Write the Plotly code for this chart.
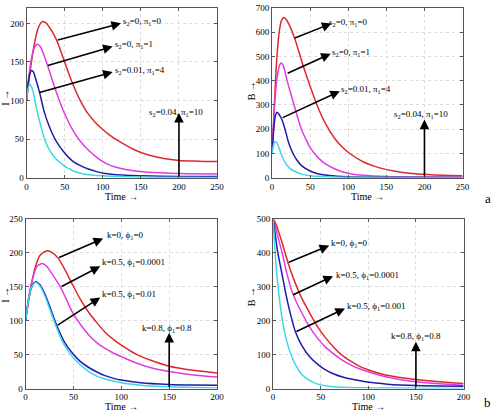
import plotly.graph_objects as go

# ---------------- Panel a (left): I vs time ----------------
a1_red_t = [0, 5, 10, 15, 20, 25, 30, 35, 40, 45, 50, 60, 70, 80, 90, 100, 110, 120, 140, 160, 180, 200, 225, 250]
a1_red_y = [100, 140, 172, 193, 202, 201, 195, 187, 177, 164, 150, 123, 101, 84, 72, 62.5, 54.5, 48, 37, 29.5, 25, 22.5, 21.5, 21]
a1_mag_t = [0, 3, 6, 10, 14, 18, 22, 27, 33, 39, 45, 50, 60, 70, 80, 90, 100, 110, 120, 140, 160, 200, 250]
a1_mag_y = [100, 130, 152, 168, 173, 170, 161, 147, 129, 111, 95, 83, 63, 48, 37, 28, 21, 16, 13, 9, 7, 5.5, 5]
a1_blu_t = [0, 2, 4, 6.5, 9, 12, 17, 23, 30, 39, 50, 60, 70, 82, 92, 103, 125, 150, 200, 250]
a1_blu_y = [100, 122, 134, 139, 137, 128, 111, 86, 66, 47, 32, 22, 16, 11, 8, 5.5, 3.5, 2.5, 1.8, 1.5]
a1_cya_t = [0, 2, 4, 6, 9, 13, 18, 23, 30, 39, 50, 60, 75, 100, 150, 250]
a1_cya_y = [100, 115, 121, 119, 110, 90, 70, 52, 36, 24, 15, 9.5, 5, 2.5, 1, 0.5]

# ---------------- Panel a (right): B vs time ----------------
a2_red_t = [0, 3, 6, 9, 12, 15.5, 19, 24, 30, 40, 50, 60, 70, 82, 92, 103, 120, 138, 160, 180, 200, 225, 250]
a2_red_y = [100, 300, 480, 590, 645, 661, 650, 620, 572, 470, 377, 292, 224, 163, 127, 98, 65, 44, 28, 19, 14, 10, 8]
a2_mag_t = [0, 2, 4, 7, 10, 12.5, 15, 17.6, 22, 28, 33, 39, 45, 50, 60, 70, 82, 92, 103, 120, 150, 200, 250]
a2_mag_y = [100, 220, 330, 420, 465, 473, 460, 428, 375, 310, 255, 196, 155, 124, 84, 57, 37, 25, 17, 10, 5, 3, 2]
a2_blu_t = [0, 2, 4, 6.4, 9, 13, 17, 22, 28, 33, 39, 50, 60, 75, 100, 150, 250]
a2_blu_y = [100, 190, 250, 270, 262, 240, 200, 142, 97, 71, 49, 28, 17, 9, 4, 2, 1]
a2_cya_t = [0, 2, 3.9, 6, 9, 13, 17.6, 22, 28, 39, 50, 70, 100, 250]
a2_cya_y = [100, 135, 149, 145, 125, 90, 60, 43, 29, 15, 8, 4, 2, 0.5]

# ---------------- Panel b (left): I vs time ----------------
b1_red_t = [0, 5, 10, 15, 22.6, 28, 34, 40, 49, 57, 66, 75, 83, 92, 100, 115, 130, 150, 175, 200]
b1_red_y = [100, 145, 178, 196, 203, 200, 192, 178, 153, 132, 112, 96, 83, 72, 64, 51, 42, 33, 27, 23]
b1_mag_t = [0, 4, 8, 12, 17.4, 22, 28, 36.6, 43, 49, 57, 66, 75, 83, 92, 100, 115, 130, 150, 175, 200]
b1_mag_y = [100, 140, 165, 180, 184, 180, 168, 149, 130, 112, 95, 79, 67, 59, 52, 47, 38, 31, 25, 20, 17]
b1_blu_t = [0, 3, 6, 9, 11.6, 15, 20, 26, 32, 40, 49, 57, 66, 75, 83, 92, 100, 120, 150, 175, 200]
b1_blu_y = [100, 130, 148, 156, 157, 153, 140, 118, 95, 70, 52, 40, 31, 24, 19, 15, 12.5, 8.5, 6, 5.2, 5]
b1_cya_t = [0, 3, 6, 9, 11, 15, 20, 26, 32, 40, 49, 57, 66, 75, 83, 92, 100, 120, 150, 175, 200]
b1_cya_y = [100, 130, 148, 155, 156, 151, 137, 114, 91, 65, 47, 35, 25, 18, 14, 11, 8.5, 5, 2.5, 1.5, 1]

# ---------------- Panel b (right): B vs time ----------------
b2_red_t = [0, 3, 6, 10, 15.8, 22, 30, 38, 47, 55, 64.6, 73, 82, 90, 99, 115, 130, 150, 175, 200]
b2_red_y = [500, 485, 460, 425, 370, 320, 267, 225, 181, 150, 119, 97, 80, 67, 56, 42, 34, 27, 20, 15]
b2_mag_t = [0, 3, 6, 9.6, 14, 20, 25, 30, 38, 47, 55, 64.6, 73, 82, 90, 99, 115, 130, 150, 175, 200]
b2_mag_y = [500, 470, 437, 400, 345, 285, 252, 224, 183, 147, 122, 100, 83, 69, 59, 50, 37, 28, 20, 14, 10]
b2_blu_t = [0, 2, 5, 9.6, 13, 16.5, 23.4, 30, 38, 47, 55, 64.6, 73, 82, 99, 120, 150, 200]
b2_blu_y = [500, 460, 400, 335, 285, 240, 168, 128, 95, 71, 55, 42, 34, 28, 19, 13, 9, 7]
b2_cya_t = [0, 1.5, 3, 6.2, 9.6, 13, 16.5, 20, 23.4, 30, 38, 47, 60, 80, 100, 150, 200]
b2_cya_y = [500, 430, 370, 275, 205, 155, 119, 92, 71, 42, 24, 13, 6, 3, 2, 1, 0.5]

COLORS = ["#dc2a2a", "#e03ce0", "#1c1caa", "#3cd8e8"]
SERIF = "Liberation Serif"

fig = go.Figure()

panels = [
    ("x", "y", [(a1_red_t, a1_red_y), (a1_mag_t, a1_mag_y), (a1_blu_t, a1_blu_y), (a1_cya_t, a1_cya_y)]),
    ("x2", "y2", [(a2_red_t, a2_red_y), (a2_mag_t, a2_mag_y), (a2_blu_t, a2_blu_y), (a2_cya_t, a2_cya_y)]),
    ("x3", "y3", [(b1_red_t, b1_red_y), (b1_mag_t, b1_mag_y), (b1_blu_t, b1_blu_y), (b1_cya_t, b1_cya_y)]),
    ("x4", "y4", [(b2_red_t, b2_red_y), (b2_mag_t, b2_mag_y), (b2_blu_t, b2_blu_y), (b2_cya_t, b2_cya_y)]),
]
for xa, ya, curves in panels:
    for (t, v), c in zip(curves, COLORS):
        fig.add_trace(go.Scatter(x=t, y=v, mode="lines", line=dict(color=c, width=1.5, shape="spline", smoothing=0.7),
                                 xaxis=xa, yaxis=ya, showlegend=False, hoverinfo="skip"))

lab_a1 = ["s<sub>2</sub>=0, π<sub>1</sub>=0", "s<sub>2</sub>=0, π<sub>1</sub>=1",
          "s<sub>2</sub>=0.01, π<sub>1</sub>=4", "s<sub>2</sub>=0.04, π<sub>1</sub>=10"]
lab_b1 = ["k=0, ϕ<sub>1</sub>=0", "k=0.5, ϕ<sub>1</sub>=0.0001", "k=0.5, ϕ<sub>1</sub>=0.01", "k=0.8, ϕ<sub>1</sub>=0.8"]
lab_b2 = ["k=0, ϕ<sub>1</sub>=0", "k=0.5, ϕ<sub>1</sub>=0.0001", "k=0.5, ϕ<sub>1</sub>=0.001", "k=0.8, ϕ<sub>1</sub>=0.8"]

arrows = [
    ("", 124, 200, 39, 178, 124, 202, lab_a1[0], "left"),
    ("", 113, 170, 26, 145, 113, 172, lab_a1[1], "left"),
    ("", 113, 137, 15, 110, 113, 139, lab_a1[2], "left"),
    ("", 200, 84, 200, 0, 196, 84, lab_a1[3], "center"),
    ("2", 78, 636, 28, 574, 72, 640, lab_a1[0], "left"),
    ("2", 77, 511, 18.5, 428, 76, 515, lab_a1[1], "left"),
    ("2", 89, 357, 12, 245, 88, 362, lab_a1[2], "left"),
    ("2", 200, 240, 200, 0, 196, 262, lab_a1[3], "center"),
    ("3", 81, 221, 33.5, 192, 83, 225, lab_b1[0], "left"),
    ("3", 78, 180, 36, 149, 78, 185, lab_b1[1], "left"),
    ("3", 78, 134, 32, 92, 78, 139, lab_b1[2], "left"),
    ("3", 150, 82, 150, 0, 148, 88, lab_b1[3], "center"),
    ("4", 59, 421, 15, 370, 59, 427, lab_b2[0], "left"),
    ("4", 63, 331, 19.6, 274, 64, 333, lab_b2[1], "left"),
    ("4", 75.6, 236, 23, 166, 76, 243, lab_b2[2], "left"),
    ("4", 150, 138, 150, 0, 150, 153, lab_b2[3], "center"),
]
for sfx, tx, ty, sx, sy, lx, ly, txt, anc in arrows:
    fig.add_annotation(x=tx, y=ty, ax=sx, ay=sy, xref="x" + sfx, yref="y" + sfx,
                       axref="x" + sfx, ayref="y" + sfx, text="", showarrow=True,
                       arrowhead=2, arrowsize=1.2, arrowwidth=1.6, arrowcolor="black")
    fig.add_annotation(x=lx, y=ly, xref="x" + sfx, yref="y" + sfx, text=txt, showarrow=False,
                       xanchor=anc, yanchor="middle", font=dict(family=SERIF, size=9, color="black"))

axis_common = dict(showline=True, linecolor="#555", linewidth=1, mirror="ticks", ticks="inside",
                   ticklen=3, tickcolor="#555", showgrid=True, gridcolor="#dcdcdc", griddash="dot",
                   gridwidth=1, zeroline=False, tickfont=dict(family=SERIF, size=9, color="black"))

fig.update_layout(
    width=500, height=417, margin=dict(l=0, r=0, t=0, b=0),
    paper_bgcolor="white", plot_bgcolor="white", showlegend=False,
    xaxis=dict(domain=[0.05, 0.438], range=[0, 250], dtick=50, anchor="y", **axis_common),
    yaxis=dict(domain=[0.5755, 0.9928], range=[0, 220], dtick=50, anchor="x", **axis_common),
    xaxis2=dict(domain=[0.55, 0.938], range=[0, 250], dtick=50, anchor="y2", **axis_common),
    yaxis2=dict(domain=[0.5755, 0.9928], range=[0, 700], dtick=100, anchor="x2", **axis_common),
    xaxis3=dict(domain=[0.048, 0.438], range=[0, 200], dtick=50, anchor="y3", **axis_common),
    yaxis3=dict(domain=[0.0576, 0.4748], range=[0, 250], dtick=50, anchor="x3", **axis_common),
    xaxis4=dict(domain=[0.552, 0.94], range=[0, 200], dtick=50, anchor="y4", **axis_common),
    yaxis4=dict(domain=[0.0576, 0.4748], range=[0, 500], dtick=100, anchor="x4", **axis_common),
)

# axis titles placed in paper coordinates (pixel positions / figure size)
titles = [
    (122, 196, "Time →", 0), (372, 196, "Time →", 0), (122, 411, "Time →", 0), (373, 411, "Time →", 0),
    (4, 95, "I →", -90), (254, 88, "B →", -90), (4, 297, "I →", -90), (254, 299, "B →", -90),
]
for px, py, txt, ang in titles:
    fig.add_annotation(x=px / 500, y=1 - py / 417, xref="paper", yref="paper", text=txt, showarrow=False,
                       textangle=ang, xanchor="center", yanchor="middle",
                       font=dict(family=SERIF, size=10, color="black"))

fig.add_annotation(x=1.0, y=1 - 198 / 417, xref="paper", yref="paper", text="a", showarrow=False,
                   xanchor="right", yanchor="middle", font=dict(family=SERIF, size=13, color="black"))
fig.add_annotation(x=1.0, y=1 - 407 / 417, xref="paper", yref="paper", text="b", showarrow=False,
                   xanchor="right", yanchor="middle", font=dict(family=SERIF, size=13, color="black"))

fig.write_html("out.html", config={"displayModeBar": False},
               post_script="document.body.style.margin='0px';document.body.style.overflow='hidden';")
